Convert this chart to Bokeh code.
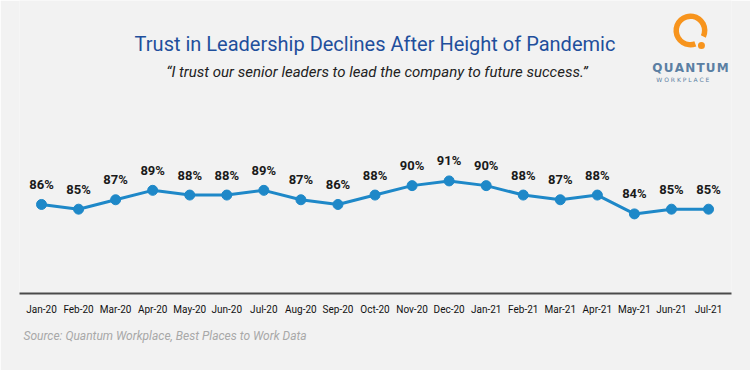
import math
from bokeh.plotting import figure
from bokeh.models import ColumnDataSource, Range1d, FixedTicker, LabelSet, Label, Title
from bokeh.core.properties import value
from bokeh.embed import file_html
from bokeh.resources import INLINE

months = ["Jan-20", "Feb-20", "Mar-20", "Apr-20", "May-20", "Jun-20", "Jul-20",
          "Aug-20", "Sep-20", "Oct-20", "Nov-20", "Dec-20", "Jan-21", "Feb-21",
          "Mar-21", "Apr-21", "May-21", "Jun-21", "Jul-21"]
values = [86, 85, 87, 89, 88, 88, 89, 87, 86, 88, 90, 91, 90, 88, 87, 88, 84, 85, 85]

title_text = "Trust in Leadership Declines After Height of Pandemic"
subtitle_text = "\u201cI trust our senior leaders to lead the company to future success.\u201d"
source_text = "Source: Quantum Workplace, Best Places to Work Data"

BG = "#f2f2f2"
W, H = 750, 370
FL, FB = 19, 293  # frame left / bottom (page px)

idx = list(range(len(months)))
src = ColumnDataSource(dict(x=idx, y=values, lab=[f"{v}%" for v in values]))

p = figure(width=W, height=H, output_backend="svg", toolbar_location=None,
           x_range=Range1d(-0.594, 18.62), y_range=Range1d(67.1, 129.3),
           min_border_left=FL, min_border_right=19, min_border_top=0,
           min_border_bottom=H - FB)
p.background_fill_color = BG
p.border_fill_color = BG
p.outline_line_color = None
p.grid.visible = False
p.yaxis.visible = False

ax = p.xaxis[0]
ax.ticker = FixedTicker(ticks=idx)
ax.major_label_overrides = {i: m for i, m in enumerate(months)}
ax.axis_line_color = "#4a4a4a"
ax.axis_line_width = 2
ax.major_tick_line_color = None
ax.minor_tick_line_color = None
ax.major_label_standoff = 4
ax.major_label_text_font = "Roboto"
ax.major_label_text_font_size = "10px"
ax.major_label_text_color = "#111111"

p.add_layout(Title(text=source_text, align="left", offset=4, standoff=18,
                   text_font="Roboto", text_font_style="italic",
                   text_font_size="12px", text_color="#a8a8a8"), "below")

p.line("x", "y", source=src, line_color="#1e88c8", line_width=3)
p.scatter("x", "y", source=src, size=10, fill_color="#1e88c8", line_color="#1e88c8")

labels = LabelSet(x="x", y="y", text="lab", source=src, y_offset=20,
                  text_align="center", text_baseline="middle",
                  text_font=value("Roboto"), text_font_style="bold",
                  text_font_size="13px", text_color="#1a1a1a")
p.add_layout(labels)

def lbl(text, ax_abs, ay_abs, **kw):
    p.add_layout(Label(x=ax_abs - FL, y=FB - ay_abs, x_units="screen", y_units="screen",
                       text=text, text_baseline="middle", **kw))

lbl(title_text, 374.5, 43, text_align="center", text_font="Roboto",
    text_font_size="20px", text_color="#1f4f9c")
lbl(subtitle_text, 376.5, 71, text_align="center", text_font="Roboto",
    text_font_style="italic", text_font_size="15px", text_color="#222222")

# logo
px_per_x = 37.06
px_per_y = 4.71
def to_data(ax_abs, ay_abs):
    return ((ax_abs - 41) / px_per_x, 86 + (204 - ay_abs) / px_per_y)

cx, cy = to_data(690, 30)
p.annular_wedge(x=cx, y=cy, inner_radius=11.5, outer_radius=17,
                inner_radius_units="screen", outer_radius_units="screen",
                start_angle=math.radians(-25), end_angle=math.radians(-70),
                direction="anticlock", fill_color="#f7941d", line_color=None)
dx, dy = to_data(701, 45)
p.scatter(x=[dx], y=[dy], size=7, fill_color="#f7941d", line_color=None)

lbl("Q\u200aU\u200aA\u200aN\u200aT\u200aU\u200aM", 690, 67, text_align="center",
    text_font="DejaVu Sans", text_font_style="bold", text_font_size="12px",
    text_color="#5b7fa3")
lbl("W  O  R  K  P  L  A  C  E", 690, 79, text_align="center",
    text_font="DejaVu Sans", text_font_size="6px", text_color="#5b7fa3")

open("out.html", "w").write(file_html(p, INLINE))
